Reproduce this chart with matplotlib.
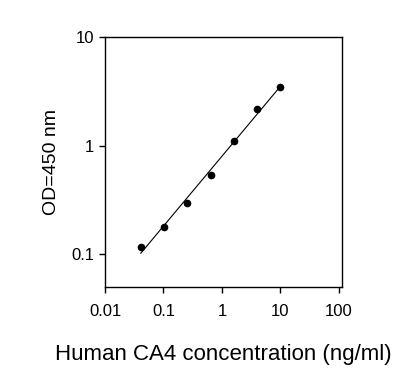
import numpy as np
import matplotlib
matplotlib.use('Agg')
import matplotlib.pyplot as plt

plt.rcParams['font.family'] = ['Liberation Sans', 'DejaVu Sans']

# standard curve values
conc = [0.041, 0.1024, 0.256, 0.64, 1.6, 4.0, 10.0]
od = [0.117, 0.179, 0.297, 0.533, 1.10, 2.18, 3.5]
xticks = [0.01, 0.1, 1, 10, 100]
xlabels = ['0.01', '0.1', '1', '10', '100']
yticks = [0.1, 1, 10]
ylabels = ['0.1', '1', '10']

fig = plt.figure(figsize=(4.19, 3.86), dpi=100)
ax = fig.add_axes([0.2506, 0.2565, 0.5654, 0.6475])

# linear fit in log-log space
lx = np.log10(conc)
ly = np.log10(od)
p = np.polyfit(lx, ly, 1)
fx = np.linspace(lx[0], lx[-1], 100)
ax.plot(10**fx, 10**np.polyval(p, fx), color='black', lw=0.8)
ax.plot(conc, od, 'o', color='black', ms=4.5)

ax.set_xscale('log')
ax.set_yscale('log')
ax.set_xlim(0.01, 113)
ax.set_ylim(0.05, 10)
ax.set_xticks(xticks)
ax.set_xticklabels(xlabels)
ax.set_yticks(yticks)
ax.set_yticklabels(ylabels)
ax.minorticks_off()
ax.tick_params(direction='out', length=4, width=1, labelsize=12)
ax.tick_params(axis='x', pad=8)
ax.tick_params(axis='y', pad=4)
for s in ax.spines.values():
    s.set_linewidth(1)

ax.set_xlabel('Human CA4 concentration (ng/ml)', fontsize=16, labelpad=18)
ax.set_ylabel('OD=450 nm', fontsize=14, labelpad=8)

fig.savefig('out.png', dpi=100)
